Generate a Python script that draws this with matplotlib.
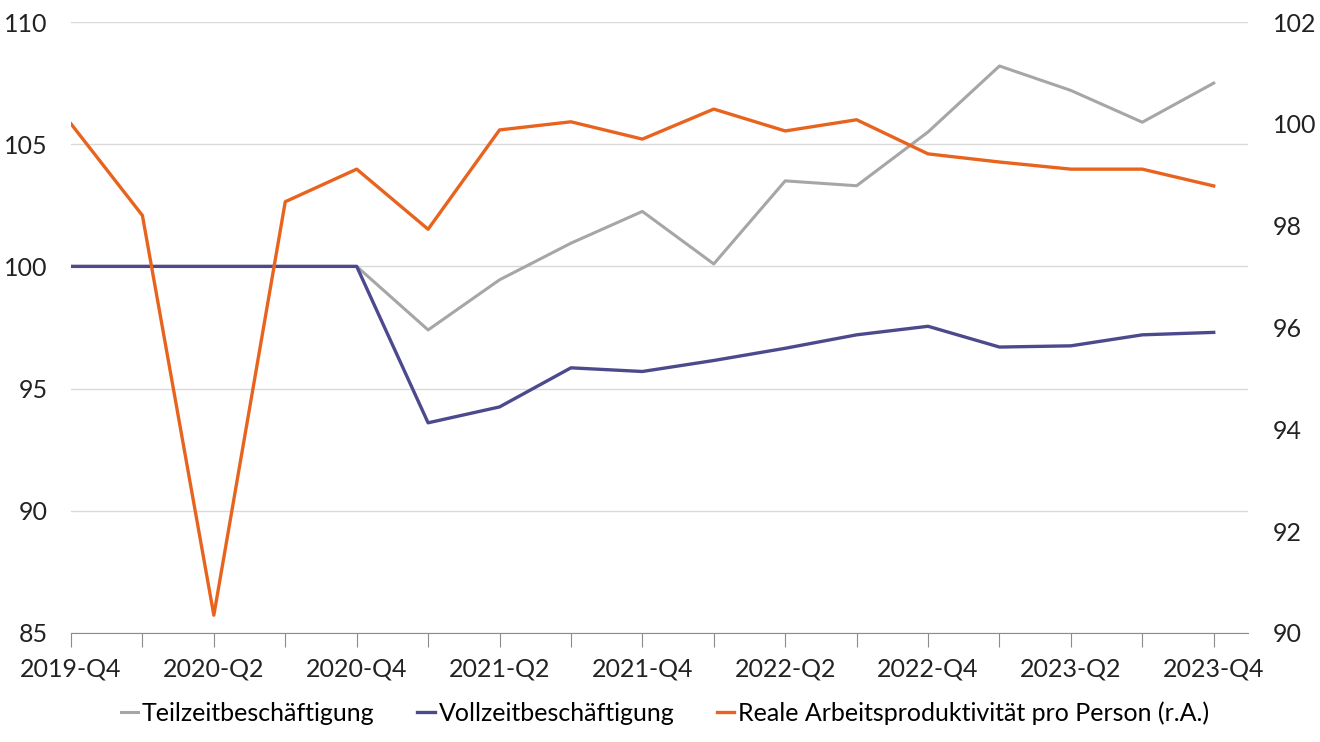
import matplotlib.pyplot as plt
import matplotlib.font_manager as fm

quarters = ['2019-Q4', '2020-Q1', '2020-Q2', '2020-Q3', '2020-Q4', '2021-Q1', '2021-Q2',
            '2021-Q3', '2021-Q4', '2022-Q1', '2022-Q2', '2022-Q3', '2022-Q4', '2023-Q1',
            '2023-Q2', '2023-Q3', '2023-Q4']
teilzeit = [100, 100, 100, 100, 100, 97.4, 99.45, 100.95, 102.25, 100.1, 103.5, 103.3,
            105.5, 108.2, 107.2, 105.9, 107.5]
vollzeit = [100, 100, 100, 100, 100, 93.6, 94.25, 95.85, 95.7, 96.15, 96.65, 97.2,
            97.55, 96.7, 96.75, 97.2, 97.3]
produktivitaet = [100.0, 98.2, 90.35, 98.47, 99.11, 97.93, 99.88, 100.04, 99.7, 100.29,
                  99.86, 100.08, 99.41, 99.25, 99.11, 99.11, 98.78]

names = set(f.name for f in fm.fontManager.ttflist)
font = 'Lato' if 'Lato' in names else 'DejaVu Sans'
plt.rcParams['font.family'] = font

c_grey = '#a6a6a6'
c_blue = '#4c4a8c'
c_orange = '#e8641e'
c_text = '#222222'

fig = plt.figure(figsize=(13.2, 7.42), dpi=100)
ax = fig.add_axes([71 / 1320, 1 - 633 / 742, (1248 - 71) / 1320, (633 - 22) / 742])
ax2 = ax.twinx()

x = list(range(len(quarters)))
l1, = ax.plot(x, teilzeit, color=c_grey, lw=2.2, label='Teilzeitbeschäftigung')
l2, = ax.plot(x, vollzeit, color=c_blue, lw=2.4, label='Vollzeitbeschäftigung')
l3, = ax2.plot(x, produktivitaet, color=c_orange, lw=2.4,
               label='Reale Arbeitsproduktivität pro Person (r.A.)')

ax.set_xlim(0, 16.48)
ax.set_ylim(85, 110)
ax2.set_ylim(90, 102)
ax.set_yticks([85, 90, 95, 100, 105, 110])
ax2.set_yticks([90, 92, 94, 96, 98, 100, 102])
ax.set_xticks(x)
ax.set_xticklabels([q if i % 2 == 0 else '' for i, q in enumerate(quarters)])

ax.grid(axis='y', color='#d9d9d9', lw=1)
ax.set_axisbelow(True)
for a in (ax, ax2):
    for s in ('top', 'left', 'right'):
        a.spines[s].set_visible(False)
    a.spines['bottom'].set_color('#8c8c8c')
ax2.spines['bottom'].set_visible(False)

ax.tick_params(axis='x', direction='out', length=10, color='#8c8c8c', labelsize=18,
               pad=8, labelcolor=c_text)
ax.tick_params(axis='y', length=0, labelsize=18, pad=17, labelcolor=c_text)
ax2.tick_params(axis='y', length=0, labelsize=18, pad=18, labelcolor=c_text)

fig.legend(handles=[l1, l2, l3], loc='center', bbox_to_anchor=(665 / 1320, 1 - 713 / 742), ncol=3,
           frameon=False, fontsize=18, handlelength=0.7, handletextpad=0.15, columnspacing=1.7)

fig.savefig('out.png', dpi=100)
